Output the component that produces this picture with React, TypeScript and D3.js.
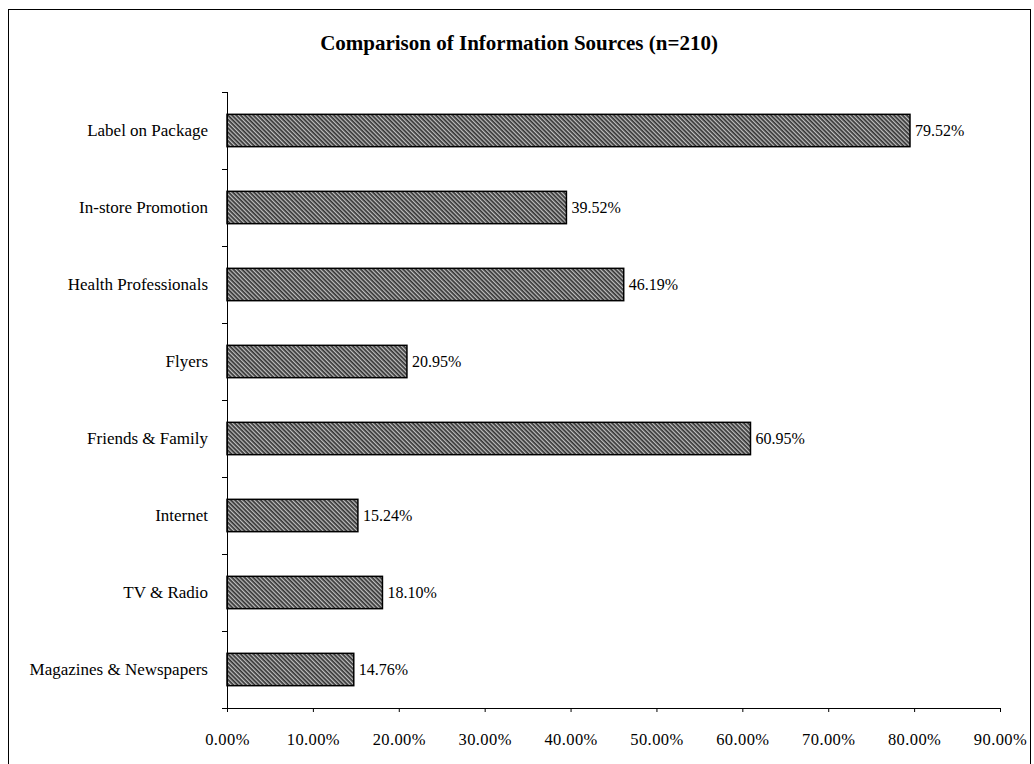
import React from 'react';
import * as d3 from 'd3';

const categories = [
  'Label on Package',
  'In-store Promotion',
  'Health Professionals',
  'Flyers',
  'Friends & Family',
  'Internet',
  'TV & Radio',
  'Magazines & Newspapers',
];
const values = [79.52, 39.52, 46.19, 20.95, 60.95, 15.24, 18.1, 14.76];
const xTicks = [0, 10, 20, 30, 40, 50, 60, 70, 80, 90];
const title = 'Comparison of Information Sources (n=210)';

const FONT = '"Liberation Serif", "Times New Roman", serif';

const App: React.FC = () => {
  const svgRef = React.useRef<SVGSVGElement>(null);

  React.useEffect(() => {
    if (!svgRef.current) return;
    const svg = d3.select(svgRef.current);
    svg.selectAll('*').remove();

    const margin = { top: 92, left: 227, right: 34, bottom: 56 };
    const W = 1034;
    const H = 764;
    const width = W - margin.left - margin.right;
    const height = H - margin.top - margin.bottom;

    // hatch pattern (lines running top-left to bottom-right)
    const defs = svg.append('defs');
    const pat = defs.append('pattern')
      .attr('id', 'hatch')
      .attr('patternUnits', 'userSpaceOnUse')
      .attr('width', 3)
      .attr('height', 3)
      .attr('patternTransform', 'rotate(45)');
    pat.append('rect').attr('width', 3).attr('height', 3).attr('fill', '#c0c0c0');
    pat.append('rect').attr('width', 3).attr('height', 1.7).attr('fill', '#333');

    // outer frame
    svg.append('rect')
      .attr('x', 8.5).attr('y', 9.5)
      .attr('width', 1022).attr('height', 770)
      .attr('fill', 'none').attr('stroke', '#000').attr('stroke-width', 1);

    svg.append('text')
      .attr('x', 519)
      .attr('y', 50)
      .attr('text-anchor', 'middle')
      .style('font-family', FONT)
      .style('font-size', '21px')
      .style('font-weight', 'bold')
      .text(title);

    const g = svg.append('g').attr('transform', `translate(${margin.left},${margin.top})`);

    const x = d3.scaleLinear().domain([0, 90]).range([0, width]);
    const y = d3.scaleBand().domain(categories).range([0, height]).paddingInner(0.58).paddingOuter(0.29);
    const band = d3.scaleBand().domain(categories).range([0, height]);

    g.selectAll('rect.bar')
      .data(values)
      .enter()
      .append('rect')
      .attr('class', 'bar')
      .attr('x', 0)
      .attr('y', (_, i) => y(categories[i])!)
      .attr('width', d => x(d))
      .attr('height', y.bandwidth())
      .attr('fill', 'url(#hatch)')
      .attr('stroke', '#000')
      .attr('stroke-width', 1.5);

    g.selectAll('text.val')
      .data(values)
      .enter()
      .append('text')
      .attr('class', 'val')
      .attr('x', d => x(d) + 5)
      .attr('y', (_, i) => y(categories[i])! + y.bandwidth() / 2)
      .attr('dy', '0.35em')
      .style('font-family', FONT)
      .style('font-size', '16px')
      .text(d => `${d.toFixed(2)}%`);

    // y axis
    const yAxis = g.append('g');
    yAxis.append('line')
      .attr('x1', 0.5).attr('x2', 0.5)
      .attr('y1', 0).attr('y2', height)
      .attr('stroke', '#000');
    const bounds = categories.map(c => band(c)!).concat([height]);
    yAxis.selectAll('line.tick')
      .data(bounds)
      .enter()
      .append('line')
      .attr('class', 'tick')
      .attr('x1', -5).attr('x2', 0)
      .attr('y1', d => Math.round(d) + 0.5)
      .attr('y2', d => Math.round(d) + 0.5)
      .attr('stroke', '#000');
    yAxis.selectAll('text')
      .data(categories)
      .enter()
      .append('text')
      .attr('x', -19)
      .attr('y', c => band(c)! + band.bandwidth() / 2)
      .attr('dy', '0.35em')
      .attr('text-anchor', 'end')
      .style('font-family', FONT)
      .style('font-size', '17px')
      .text(c => c);

    // x axis
    const xAxis = g.append('g')
      .attr('transform', `translate(0,${height})`)
      .call(d3.axisBottom(x).tickValues(xTicks).tickSize(4).tickSizeOuter(4).tickPadding(21)
        .tickFormat(d => `${(+d).toFixed(2)}%`));
    xAxis.select('.domain').attr('stroke', '#000');
    xAxis.selectAll('text')
      .style('font-family', FONT)
      .style('font-size', '16.5px')
      .style('letter-spacing', '0.4px')
      .attr('fill', '#000');
  }, []);

  return (
    <svg ref={svgRef} width={1034} height={764} viewBox="0 0 1034 764"
      style={{ position: 'absolute', left: 0, top: 0, background: '#fff' }} />
  );
};

export default App;
